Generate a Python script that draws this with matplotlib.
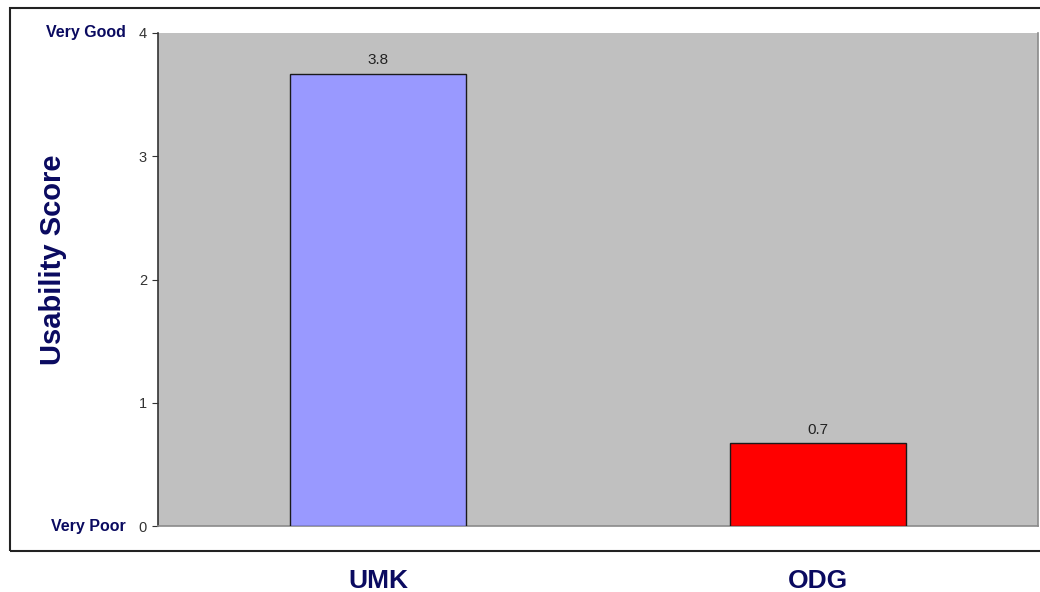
import matplotlib.pyplot as plt
from matplotlib.patches import Rectangle
from matplotlib.transforms import blended_transform_factory

# Data
categories = ["UMK", "ODG"]
scores = [3.67, 0.67]
score_labels = ["3.8", "0.7"]
bar_colors = ["#9999FF", "#FF0000"]
y_ticks = [0, 1, 2, 3, 4]
scale_labels = {0: "Very Poor", 4: "Very Good"}

plt.rcParams["font.family"] = ["Liberation Sans", "DejaVu Sans"]
navy = "#0A0A60"

fig = plt.figure(figsize=(10.4, 5.92), dpi=100)
ax = fig.add_axes([158 / 1040, 1 - 526 / 592, 880 / 1040, 493 / 592])
ax.set_facecolor("#C0C0C0")

# outer chart frame
fig.patches.append(Rectangle((10 / 1040, 1 - 551 / 592), 1.05, 543 / 592,
                             transform=fig.transFigure, fill=False,
                             edgecolor="#222222", linewidth=1.5))

x = range(len(categories))
ax.bar(x, scores, width=0.4, color=bar_colors, edgecolor="#1a1a1a", linewidth=1, zorder=3)

for xi, v, lab in zip(x, scores, score_labels):
    ax.annotate(lab, (xi, v), xytext=(0, 10), textcoords="offset points",
                ha="center", va="center", fontsize=11, color="#222222")

ax.set_xlim(-0.5, 1.5)
ax.set_ylim(0, 4)
ax.set_xticks(list(x))
ax.set_xticklabels(categories, fontsize=19, fontweight="bold", color=navy)
ax.tick_params(axis="x", length=0, pad=31)
ax.set_yticks(y_ticks)
ax.set_yticklabels([str(t) for t in y_ticks], fontsize=10.5, color="#333333")
ax.tick_params(axis="y", length=4, width=0.8, color="#333333", pad=4)

trans = blended_transform_factory(ax.transAxes, ax.transData)
for val, lab in scale_labels.items():
    ax.annotate(lab, (0, val), xycoords=trans, xytext=(-23, 0), textcoords="offset points",
                ha="right", va="center", fontsize=11.5, fontweight="bold", color=navy)

ax.set_ylabel("Usability Score", fontsize=21, fontweight="bold", color=navy)
ax.yaxis.set_label_coords(-91 / 880, 0.54)

ax.spines["top"].set_visible(False)
ax.spines["left"].set_color("#333333")
ax.spines["bottom"].set_color("#8a8a8a")
ax.spines["right"].set_color("#8a8a8a")
for s in ["left", "bottom", "right"]:
    ax.spines[s].set_linewidth(1.2)

fig.savefig("out.png", dpi=100)
